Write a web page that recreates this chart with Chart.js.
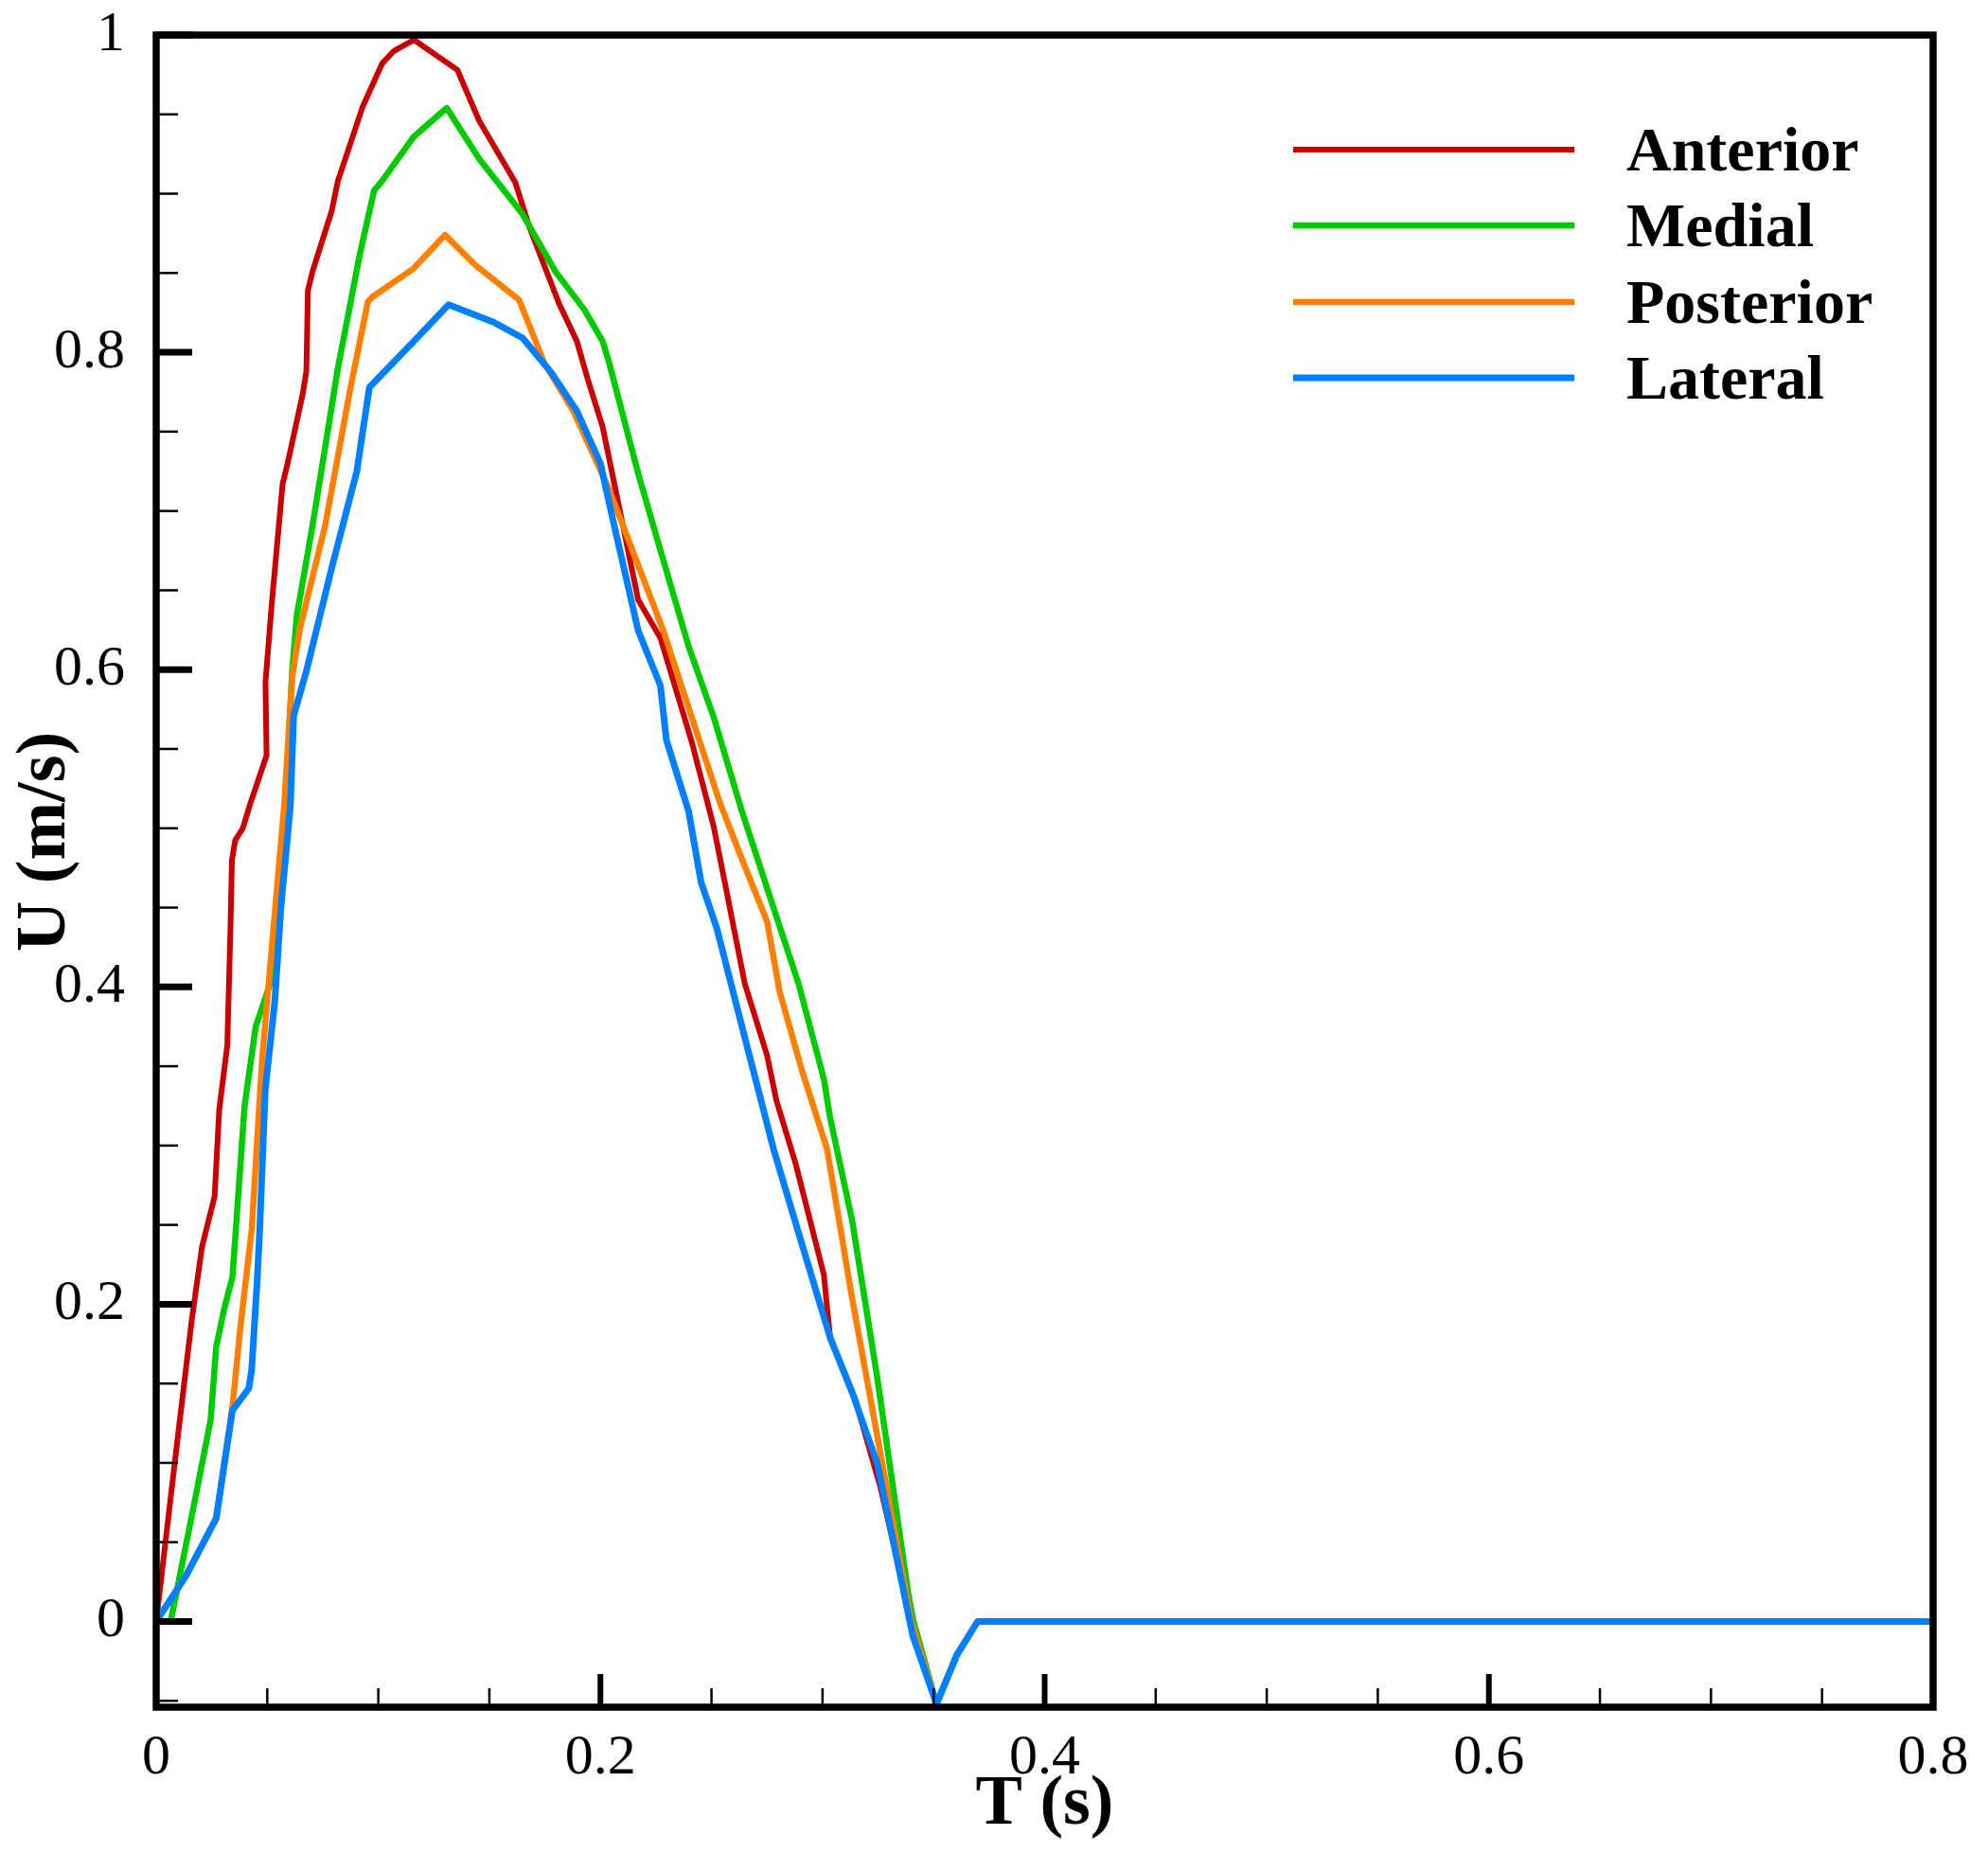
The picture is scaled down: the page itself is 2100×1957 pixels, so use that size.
<!DOCTYPE html>
<html>
<head>
<meta charset="utf-8">
<script src="https://cdn.jsdelivr.net/npm/chart.js@4/dist/chart.umd.min.js"></script>
<style>
  html, body { margin: 0; padding: 0; background: #ffffff; }
  #wrap { width: 2100px; height: 1957px; position: relative; }
  canvas { display: block; }
</style>
</head>
<body>
<div id="wrap"><canvas id="c" width="2100" height="1957"></canvas></div>
<script>
// ---------------- data ----------------
const seriesNames = ["Anterior", "Medial", "Posterior", "Lateral"];
const seriesColors = ["#cc0000", "#00cc00", "#ff8000", "#0080ff"];

const anteriorT = [0, 0.0086, 0.016, 0.0206, 0.0263, 0.0284, 0.032, 0.0334, 0.0341, 0.0356, 0.039, 0.042, 0.0497, 0.0492, 0.052, 0.0569, 0.059, 0.066, 0.0676, 0.0683, 0.0704, 0.079, 0.0818, 0.093, 0.1017, 0.107, 0.116, 0.1356, 0.1454, 0.1617, 0.168, 0.1813, 0.1894, 0.1943, 0.201, 0.217, 0.227, 0.241, 0.251, 0.2567, 0.265, 0.275, 0.2793, 0.288, 0.3006, 0.3034, 0.3147, 0.326, 0.340];
const anteriorU = [0, 0.103, 0.19, 0.236, 0.268, 0.323, 0.363, 0.435, 0.48, 0.4925, 0.50, 0.514, 0.546, 0.592, 0.641, 0.717, 0.729, 0.774, 0.788, 0.839, 0.851, 0.889, 0.908, 0.955, 0.982, 0.99, 0.997, 0.978, 0.946, 0.907, 0.879, 0.831, 0.807, 0.783, 0.753, 0.644, 0.62, 0.555, 0.501, 0.461, 0.402, 0.357, 0.328, 0.288, 0.2186, 0.179, 0.14, 0.085, 0.0];

const medialT = [0, 0.0065, 0.0172, 0.0245, 0.027, 0.0306, 0.0343, 0.0363, 0.0398, 0.0448, 0.052, 0.0562, 0.0612, 0.0633, 0.0704, 0.0818, 0.0917, 0.0981, 0.1017, 0.116, 0.1308, 0.1454, 0.165, 0.1797, 0.1927, 0.201, 0.204, 0.217, 0.2283, 0.2397, 0.251, 0.2637, 0.2765, 0.2892, 0.3006, 0.3034, 0.3133, 0.3246, 0.3388, 0.341];
const medialU = [0, 0, 0.075, 0.127, 0.173, 0.197, 0.217, 0.256, 0.325, 0.375, 0.405, 0.457, 0.599, 0.634, 0.691, 0.79, 0.862, 0.902, 0.908, 0.936, 0.954, 0.922, 0.887, 0.851, 0.827, 0.807, 0.793, 0.7236, 0.669, 0.6147, 0.57, 0.5107, 0.456, 0.402, 0.342, 0.3176, 0.253, 0.154, 0.0157, 0];

const posteriorT = [0, 0.0135, 0.027, 0.0343, 0.038, 0.043, 0.0477, 0.0576, 0.0612, 0.0647, 0.0761, 0.0875, 0.0953, 0.0974, 0.116, 0.130, 0.1437, 0.1634, 0.1748, 0.1878, 0.2035, 0.2283, 0.2538, 0.265, 0.275, 0.2807, 0.2907, 0.302, 0.3133, 0.3275, 0.340];
const posteriorU = [0, 0.029, 0.065, 0.135, 0.187, 0.247, 0.355, 0.514, 0.595, 0.626, 0.691, 0.778, 0.832, 0.835, 0.853, 0.874, 0.855, 0.833, 0.793, 0.763, 0.715, 0.6246, 0.516, 0.476, 0.4414, 0.397, 0.3475, 0.298, 0.2038, 0.095, 0];

const lateralT = [0, 0.0135, 0.027, 0.0343, 0.0417, 0.043, 0.0455, 0.0466, 0.0491, 0.0534, 0.0562, 0.0604, 0.0619, 0.0676, 0.079, 0.0903, 0.096, 0.116, 0.1316, 0.1519, 0.165, 0.178, 0.1894, 0.2, 0.2057, 0.217, 0.227, 0.2297, 0.2397, 0.2453, 0.2524, 0.2652, 0.2779, 0.2907, 0.3034, 0.3133, 0.3246, 0.3406];
const lateralU = [0, 0.029, 0.065, 0.133, 0.147, 0.159, 0.216, 0.247, 0.335, 0.391, 0.451, 0.514, 0.571, 0.599, 0.664, 0.725, 0.778, 0.807, 0.830, 0.819, 0.809, 0.787, 0.763, 0.73, 0.694, 0.6246, 0.59, 0.5556, 0.5107, 0.466, 0.437, 0.367, 0.298, 0.238, 0.179, 0.1445, 0.0998, -0.0088];

// common diastolic tail (all curves overlap here)
const tailT = [0.3513, 0.3605, 0.3698, 0.8];
const tailU = [-0.052, -0.021, 0, 0];

const xTickValues = [0, 0.2, 0.4, 0.6, 0.8];
const xTickLabels = ["0", "0.2", "0.4", "0.6", "0.8"];
const xMinorValues = [0.05, 0.1, 0.15, 0.25, 0.3, 0.35, 0.45, 0.5, 0.55, 0.65, 0.7, 0.75];
const yTickValues = [0, 0.2, 0.4, 0.6, 0.8, 1];
const yTickLabels = ["0", "0.2", "0.4", "0.6", "0.8", "1"];
const yMinorValues = [-0.05, 0.05, 0.1, 0.15, 0.25, 0.3, 0.35, 0.45, 0.5, 0.55, 0.65, 0.7, 0.75, 0.85, 0.9, 0.95];
const xTitle = "T (s)";
const yTitle = "U (m/s)";

// ---------------- build ----------------
function pts(ts, us) {
  const a = ts.map((t, i) => ({ x: t, y: us[i] }));
  tailT.forEach((t, i) => a.push({ x: t, y: tailU[i] }));
  return a;
}
const allT = [anteriorT, medialT, posteriorT, lateralT];
const allU = [anteriorU, medialU, posteriorU, lateralU];
const widths = [6, 6.5, 6.5, 7];

const datasets = seriesNames.map((name, i) => ({
  label: name,
  data: pts(allT[i], allU[i]),
  borderColor: seriesColors[i],
  backgroundColor: seriesColors[i],
  borderWidth: widths[i],
  pointRadius: 0,
  tension: 0,
  showLine: true,
  fill: false,
  order: 4 - i,
  borderJoinStyle: 'round',
  borderCapStyle: 'round'
}));

const SERIF = "'Liberation Serif', 'Times New Roman', serif";

const decor = {
  id: 'decor',
  afterDraw(chart) {
    const ctx = chart.ctx;
    const a = chart.chartArea;
    const xs = chart.scales.x, ys = chart.scales.y;
    ctx.save();
    ctx.strokeStyle = '#000';
    ctx.lineCap = 'butt';
    // y ticks (inward)
    yTickValues.forEach(v => {
      const p = ys.getPixelForValue(v);
      ctx.lineWidth = 7;
      ctx.beginPath(); ctx.moveTo(a.left, p); ctx.lineTo(a.left + 38, p); ctx.stroke();
    });
    yMinorValues.forEach(v => {
      const p = ys.getPixelForValue(v);
      ctx.lineWidth = 2.5;
      ctx.beginPath(); ctx.moveTo(a.left, p); ctx.lineTo(a.left + 23, p); ctx.stroke();
    });
    // x ticks (inward)
    xTickValues.forEach(v => {
      const p = xs.getPixelForValue(v);
      ctx.lineWidth = 6;
      ctx.beginPath(); ctx.moveTo(p, a.bottom); ctx.lineTo(p, a.bottom - 35); ctx.stroke();
    });
    xMinorValues.forEach(v => {
      const p = xs.getPixelForValue(v);
      ctx.lineWidth = 2.5;
      ctx.beginPath(); ctx.moveTo(p, a.bottom); ctx.lineTo(p, a.bottom - 20); ctx.stroke();
    });
    // frame
    ctx.lineWidth = 7.5;
    ctx.lineJoin = 'miter';
    ctx.strokeRect(a.left, a.top, a.right - a.left, a.bottom - a.top);

    // axis titles
    ctx.fillStyle = '#000';
    ctx.font = "bold 74px " + SERIF;
    ctx.textAlign = 'center';
    ctx.textBaseline = 'alphabetic';
    ctx.fillText(xTitle, (a.left + a.right) / 2, 1926);
    ctx.save();
    ctx.translate(68, 889);
    ctx.rotate(-Math.PI / 2);
    ctx.fillText(yTitle, 0, 0);
    ctx.restore();

    // legend
    const lx0 = 1366, lx1 = 1663, tx = 1718;
    const ly = [158, 238, 319, 399];
    ctx.font = "bold 66px " + SERIF;
    ctx.textAlign = 'left';
    chart.data.datasets.forEach((ds, i) => {
      ctx.strokeStyle = ds.borderColor;
      ctx.lineWidth = ds.borderWidth;
      ctx.beginPath(); ctx.moveTo(lx0, ly[i]); ctx.lineTo(lx1, ly[i]); ctx.stroke();
      ctx.fillStyle = '#000';
      ctx.fillText(ds.label, tx, ly[i] + 22);
    });
    ctx.restore();
  }
};

new Chart(document.getElementById('c'), {
  type: 'scatter',
  data: { datasets },
  options: {
    responsive: false,
    animation: false,
    devicePixelRatio: 1,
    layout: { padding: { left: 0, top: 37, right: 58, bottom: 0 } },
    plugins: { legend: { display: false }, tooltip: { enabled: false } },
    scales: {
      x: {
        type: 'linear',
        min: 0, max: 0.8,
        grid: { display: false },
        border: { display: false },
        afterBuildTicks: s => { s.ticks = xTickValues.map(v => ({ value: v })); },
        afterFit: s => { s.height = 154; s.paddingLeft = 0; s.paddingRight = 0; },
        ticks: {
          padding: 10,
          color: '#000',
          font: { family: SERIF, size: 60 },
          maxRotation: 0,
          callback: (v) => xTickLabels[xTickValues.indexOf(v)] ?? ''
        }
      },
      y: {
        type: 'linear',
        min: -0.054, max: 1,
        grid: { display: false },
        border: { display: false },
        afterBuildTicks: s => { s.ticks = yTickValues.map(v => ({ value: v })); },
        afterFit: s => { s.width = 165; s.paddingTop = 0; s.paddingBottom = 0; },
        ticks: {
          padding: 25,
          color: '#000',
          font: { family: SERIF, size: 60 },
          callback: (v) => yTickLabels[yTickValues.indexOf(v)] ?? ''
        }
      }
    }
  },
  plugins: [decor]
});
</script>
</body>
</html>
